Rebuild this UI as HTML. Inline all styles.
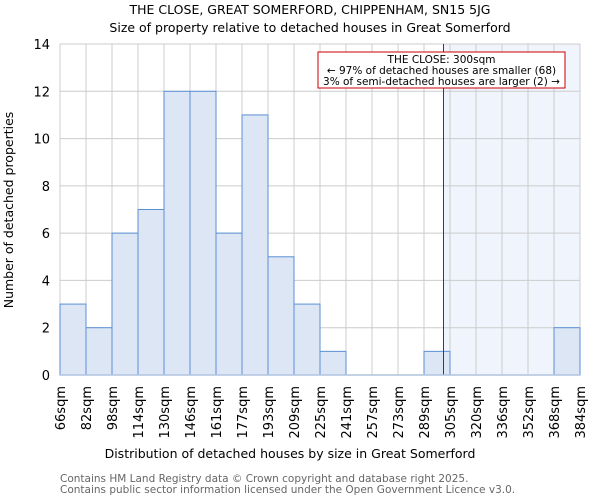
<!DOCTYPE html>
<html><head><meta charset="utf-8"><style>
body{margin:0;background:#fff;font-family:"DejaVu Sans","Liberation Sans",sans-serif}
</style></head><body>
<svg id="chart" width="600" height="500" xmlns="http://www.w3.org/2000/svg" font-family="DejaVu Sans, Liberation Sans, sans-serif">
<text x="310" y="14" text-anchor="middle" font-size="12.5" fill="#000">THE CLOSE, GREAT SOMERFORD, CHIPPENHAM, SN15 5JG</text>
<text x="310" y="32" text-anchor="middle" font-size="12.5" fill="#000">Size of property relative to detached houses in Great Somerford</text>
<g id="grid"></g>
<g id="bars"></g>
<g id="overlay"></g>
<g id="axes"></g>
<text x="290" y="458" text-anchor="middle" font-size="12.5">Distribution of detached houses by size in Great Somerford</text>
<text transform="translate(13,210) rotate(-90)" text-anchor="middle" font-size="12.5">Number of detached properties</text>
<text x="60" y="482" font-size="10.5" fill="#666">Contains HM Land Registry data © Crown copyright and database right 2025.</text>
<text x="60" y="493" font-size="10.5" fill="#666">Contains public sector information licensed under the Open Government Licence v3.0.</text>
</svg>
<script>
const binLabels=["66sqm","82sqm","98sqm","114sqm","130sqm","146sqm","161sqm","177sqm","193sqm","209sqm","225sqm","241sqm","257sqm","273sqm","289sqm","305sqm","320sqm","336sqm","352sqm","368sqm","384sqm"];
const counts=[3,2,6,7,12,12,6,11,5,3,1,0,0,0,1,0,0,0,0,2];
const yTicks=[0,2,4,6,8,10,12,14];
const markerBin=14.75;
const NS="http://www.w3.org/2000/svg";
const L=60,R=580,T=44,B=375,yMax=14;
const n=counts.length,bw=(R-L)/n;
const xs=i=>L+i*bw;
const ys=v=>B-(v/yMax)*(B-T);
function mk(tag,attrs,parent){const e=document.createElementNS(NS,tag);for(const k in attrs)e.setAttribute(k,attrs[k]);parent.appendChild(e);return e;}
const grid=document.getElementById('grid'),bars=document.getElementById('bars'),ov=document.getElementById('overlay'),axes=document.getElementById('axes');
const mx=xs(markerBin);
const sh=mk('rect',{x:mx,y:T,width:R-mx,height:B-T,fill:'#f0f4fd'},grid);


for(let i=0;i<=n;i++){const l=mk('line',{x1:xs(i),x2:xs(i),y1:T,y2:B,stroke:'#cccccc','stroke-width':1},grid);

}
yTicks.forEach(v=>{const l=mk('line',{x1:L,x2:R,y1:ys(v),y2:ys(v),stroke:'#cccccc','stroke-width':1},grid);


const t=mk('text',{x:L-10,y:ys(v)+5,'text-anchor':'end','font-size':13},axes);t.textContent=v;

});
counts.forEach((c,i)=>{if(c<=0)return;const r=mk('rect',{x:xs(i),y:ys(c),width:bw,height:B-ys(c),fill:'#dce6f4',stroke:'#5b8fd6','stroke-width':1},bars);

});
binLabels.forEach((s,i)=>{const t=mk('text',{transform:`translate(${xs(i)+5},386) rotate(-90)`,'text-anchor':'end','font-size':13},axes);t.textContent=s;

});
const ax=mk('line',{x1:L,x2:R,y1:B,y2:B,stroke:'#b0c4de','stroke-width':1.5},axes);


const ml=mk('line',{x1:mx,x2:mx,y1:T,y2:B,stroke:'#cc0000','stroke-width':1},ov);


const box=mk('rect',{x:318,y:52,width:247,height:36,fill:'#fff',stroke:'#cc0000','stroke-width':1},ov);


["THE CLOSE: 300sqm","← 97% of detached houses are smaller (68)","3% of semi-detached houses are larger (2) →"].forEach((s,k)=>{const t=mk('text',{x:441.5,y:63+k*11,'text-anchor':'middle','font-size':10.5},ov);t.textContent=s;

});
</script>
</body></html>
